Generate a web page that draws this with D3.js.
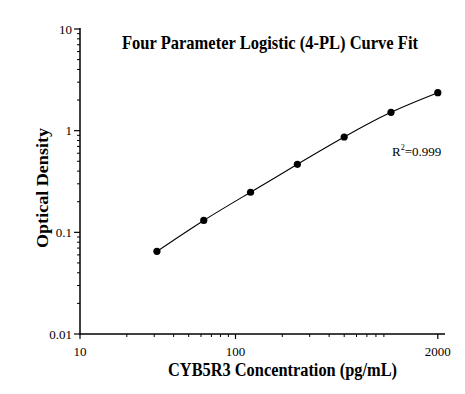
<!DOCTYPE html>
<html>
<head>
<meta charset="utf-8">
<script src="https://cdn.jsdelivr.net/npm/d3@7"></script>
<style>
  body { margin: 0; background: #fff; }
  svg { display: block; }
</style>
</head>
<body>
<div id="chart"></div>
<script>
// standard curve points
const concentrations = [31.25, 62.5, 125, 250, 500, 1000, 2000];
const opticalDensity = [0.065, 0.131, 0.248, 0.467, 0.866, 1.516, 2.363];
const xTickLabels = [10, 100, 2000];
const yTickLabels = [0.01, 0.1, 1, 10];
const rSquared = "0.999";

const width = 465, height = 394;
const font = "'Liberation Serif', 'Times New Roman', serif";

const svg = d3.select("#chart").append("svg")
  .attr("width", width)
  .attr("height", height);

svg.append("rect").attr("width", width).attr("height", height).attr("fill", "#fff");

const x = d3.scaleLog().domain([10, 2225]).range([80, 445]);
const y = d3.scaleLog().domain([0.01, 10]).range([334, 29]);

// minor ticks (2..9 per decade)
const xMinor = [];
for (let d = 10; d < 2225; d *= 10) {
  for (let k = 2; k <= 9; k++) {
    const v = d * k;
    if (v <= 2225 && !xTickLabels.includes(v)) xMinor.push(v);
  }
}
const yMinor = [];
for (let d = 0.01; d < 10; d *= 10) {
  for (let k = 2; k <= 9; k++) yMinor.push(+(d * k).toPrecision(3));
}

// --- axes ---
const gx = svg.append("g").attr("transform", "translate(0,334)");
gx.append("line").attr("x1", 80).attr("x2", 445).attr("stroke", "#000").attr("stroke-width", 1.5);
gx.selectAll(".minor").data(xMinor).enter().append("line")
  .attr("x1", d => x(d)).attr("x2", d => x(d)).attr("y1", 0).attr("y2", 3)
  .attr("stroke", "#000").attr("stroke-width", 1);
gx.selectAll(".major").data(xTickLabels).enter().append("line")
  .attr("x1", d => x(d)).attr("x2", d => x(d)).attr("y1", 0).attr("y2", 5)
  .attr("stroke", "#000").attr("stroke-width", 1.2);
gx.selectAll("text").data(xTickLabels).enter().append("text")
  .attr("x", d => x(d)).attr("y", 356)
  .attr("y", 22)
  .attr("text-anchor", "middle")
  .style("font-family", font).style("font-size", "13px")
  .text(d => d);

const gy = svg.append("g").attr("transform", "translate(80,0)");
gy.append("line").attr("y1", 28).attr("y2", 335).attr("stroke", "#000").attr("stroke-width", 1.5);
gy.selectAll(".minor").data(yMinor).enter().append("line")
  .attr("y1", d => y(d)).attr("y2", d => y(d)).attr("x1", 0).attr("x2", -3)
  .attr("stroke", "#000").attr("stroke-width", 1);
gy.selectAll(".major").data(yTickLabels).enter().append("line")
  .attr("y1", d => y(d)).attr("y2", d => y(d)).attr("x1", 0).attr("x2", -6)
  .attr("stroke", "#000").attr("stroke-width", 1.2);
gy.selectAll("text").data(yTickLabels).enter().append("text")
  .attr("x", -8).attr("y", d => y(d)).attr("dy", "0.35em")
  .attr("text-anchor", "end")
  .style("font-family", font).style("font-size", "13px")
  .text(d => d);

// --- curve & points ---
const pts = concentrations.map((c, i) => [c, opticalDensity[i]]);
const line = d3.line()
  .x(d => x(d[0])).y(d => y(d[1]))
  .curve(d3.curveNatural);
svg.append("path").datum(pts)
  .attr("d", line)
  .attr("fill", "none").attr("stroke", "#000").attr("stroke-width", 1.1);

svg.selectAll(".pt").data(pts).enter().append("circle")
  .attr("cx", d => x(d[0])).attr("cy", d => y(d[1])).attr("r", 3.6)
  .attr("fill", "#000");

// --- texts (source image is slightly condensed horizontally) ---
svg.append("text")
  .attr("x", 122).attr("y", 49)
  .attr("textLength", 296).attr("lengthAdjust", "spacingAndGlyphs")
  .style("font-family", font).style("font-size", "19px").style("font-weight", "bold")
  .text("Four Parameter Logistic (4-PL) Curve Fit");

svg.append("text")
  .attr("x", 168).attr("y", 375.5)
  .attr("textLength", 229).attr("lengthAdjust", "spacingAndGlyphs")
  .style("font-family", font).style("font-size", "18.5px").style("font-weight", "bold")
  .text("CYB5R3 Concentration (pg/mL)");

svg.append("text")
  .attr("transform", "translate(48,248) rotate(-90)")
  .attr("textLength", 120).attr("lengthAdjust", "spacingAndGlyphs")
  .style("font-family", font).style("font-size", "17px").style("font-weight", "bold")
  .text("Optical Density");

const r2 = svg.append("text")
  .attr("x", 392).attr("y", 156)
  .style("font-family", font).style("font-size", "13px");
r2.append("tspan").text("R");
r2.append("tspan").attr("dy", -6).style("font-size", "8px").text("2");
r2.append("tspan").attr("dy", 6).text("=" + rSquared);
</script>
</body>
</html>
